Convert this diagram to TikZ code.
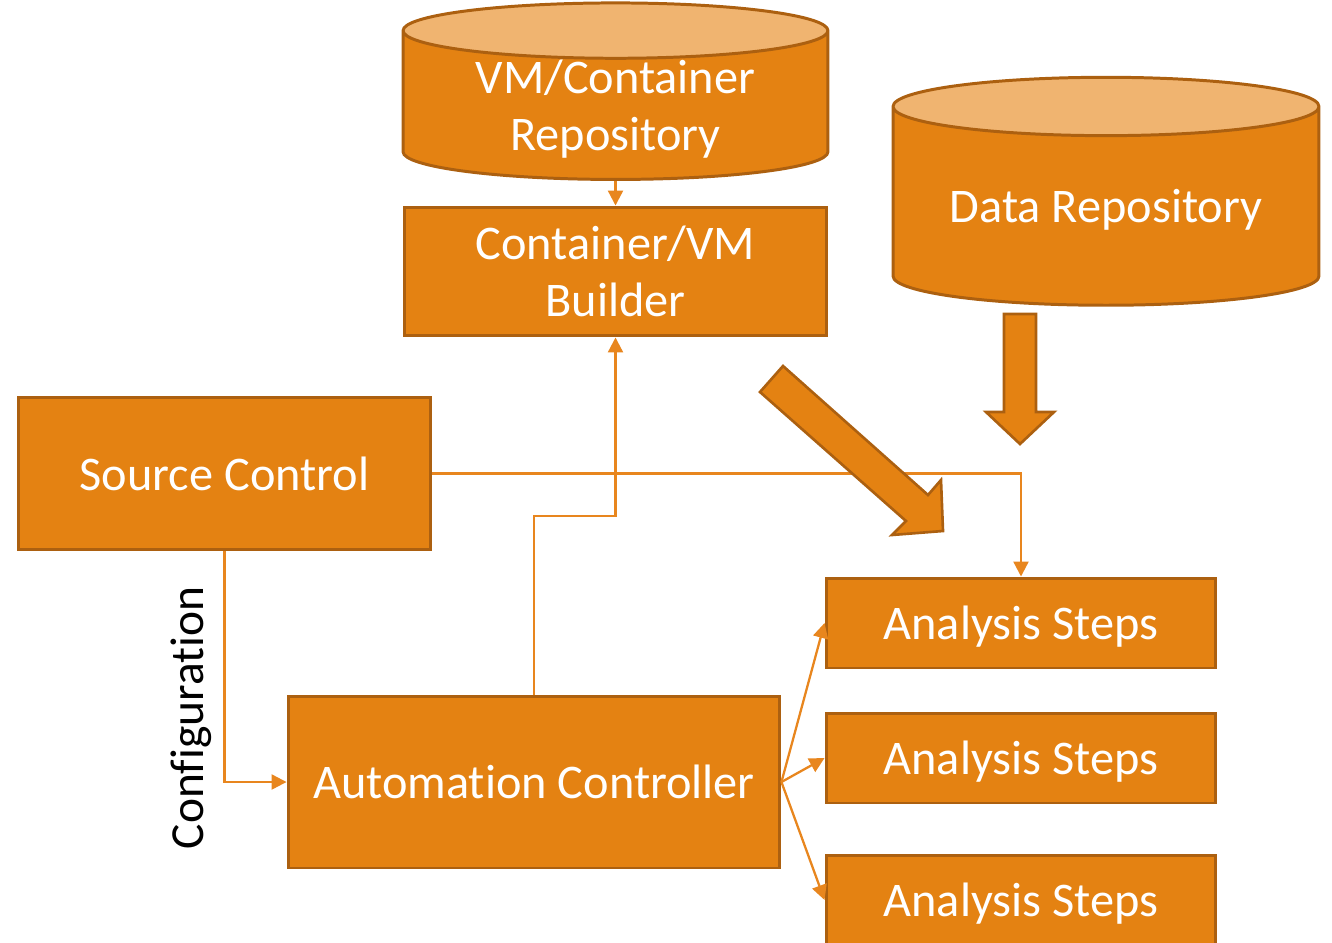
\documentclass[tikz,border=0pt]{standalone}
\usepackage{fontspec}
\setmainfont{Carlito}[Ligatures=NoCommon]
\usepackage{tikz}
\usetikzlibrary{shapes.geometric,arrows.meta,positioning}
\definecolor{boxfill}{RGB}{228,130,18}
\definecolor{boxline}{RGB}{172,96,16}
\definecolor{topfill}{RGB}{240,180,112}
\definecolor{linkcol}{RGB}{232,134,30}
\tikzset{box/.style={rectangle,draw=boxline,fill=boxfill,line width=1.7pt,text=white,align=center,text depth=0pt,font=\fontsize{27.5}{32.5}\selectfont},
  repo/.style={cylinder,shape border rotate=90,draw=boxline,line width=1.7pt,inner ysep=0pt,cylinder uses custom fill,cylinder body fill=boxfill,cylinder end fill=topfill,text=white,align=center,font=\fontsize{27.5}{32.5}\selectfont},
  link/.style={draw=linkcol,line width=1.3pt,-{Triangle[length=0.3cm,width=0.3cm]}},
  bigarrow/.style={draw=boxline,fill=boxfill,line width=1.5pt,line join=miter}}

\begin{document}
\begin{tikzpicture}[x=0.02cm,y=-0.02cm]
        \useasboundingbox (0,0) rectangle (1332,943);

        % repositories
        \node[repo,minimum width=8.5cm,minimum height=3.38cm,aspect=0.19] (vmrepo) at (615.5,109) {VM/Container\\Repository};
        \node[repo,minimum width=8.52cm,minimum height=4.56cm,aspect=0.18] (datarepo) at (1106,210) {Data Repository};

        % boxes
        \node[box,minimum width=8.46cm,minimum height=2.58cm] (builder) at (615.5,271.5) {Container/VM\\Builder};
        \node[box,minimum width=8.26cm,minimum height=3.06cm] (src) at (224.5,473.5) {Source Control};
        \node[box,minimum width=9.84cm,minimum height=3.44cm] (auto) at (534,782) {Automation Controller};
        \node[box,minimum width=7.8cm,minimum height=1.8cm] (step1) at (1021,623) {Analysis Steps};
        \node[box,minimum width=7.8cm,minimum height=1.8cm] (step2) at (1021,758) {Analysis Steps};
        \node[box,minimum width=7.8cm,minimum height=1.8cm] (step3) at (1021,900) {Analysis Steps};

        \node[rotate=90,font=\fontsize{27}{32}\selectfont] (cfg) at (191,718) {Configuration};

        % thin connectors
        \coordinate (bend) at (615.5,516);
        \draw[link] (vmrepo.south) -- (builder.north);
        \draw[link] (auto.north) |- (bend) -- (builder.south);
        \draw[link] (src.east) -| (step1.north);
        \draw[link] (src.south) |- (auto.west);
        \draw[link] (auto.east) -- (step1.west);
        \draw[link] (auto.east) -- (step2.west);
        \draw[link] (auto.east) -- (step3.west);

        % block arrows
        \draw[bigarrow] (1004,314) -- (1036,314) -- (1036,412) -- (1054,412) -- (1020,444) -- (986,412) -- (1004,412) -- cycle;
        \draw[bigarrow] (783,366) -- (928,495) -- (941,480) -- (943,531) -- (892,535) -- (906,521) -- (760,392) -- cycle;
\end{tikzpicture}
\end{document}
